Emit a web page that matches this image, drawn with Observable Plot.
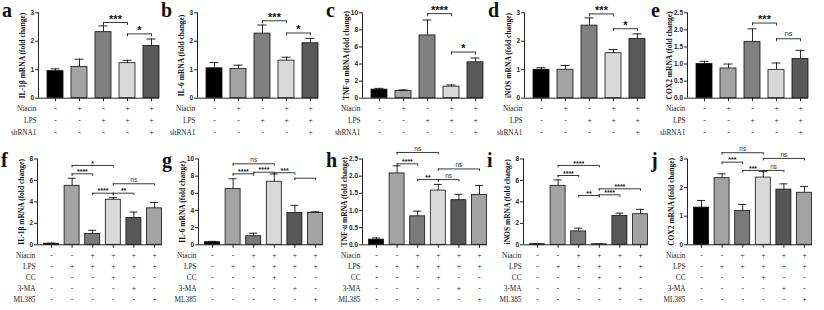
<!DOCTYPE html>
<html><head><meta charset="utf-8">
<script src="https://cdn.jsdelivr.net/npm/d3@7"></script>
<script src="https://cdn.jsdelivr.net/npm/@observablehq/plot@0.6"></script>
<style>
html,body{margin:0;padding:0;background:#fff;}
#fig{position:relative;width:824px;height:310px;overflow:hidden;background:#fff;}
.pos{position:absolute;}
.pos svg{overflow:visible;display:block;}
.letter{position:absolute;font-family:"Liberation Serif",serif;font-weight:bold;font-size:20px;line-height:1;color:#111;}
</style></head><body><div id="fig"></div>
<script>
// ---------- data ----------
const panelLetters = ["a","b","c","d","e","f","g","h","i","j"];
const genes = ["IL-1β","IL-6","TNF-α","iNOS","COX2","IL-1β","IL-6","TNF-α","iNOS","COX2"];

const topRows = ["Niacin","LPS","shRNA1"];
const topSigns = [
  ["-","+","-","+","+"],
  ["-","-","+","+","+"],
  ["-","-","-","-","+"]
];
const bottomRows = ["Niacin","LPS","CC","3-MA","ML385"];
const bottomSigns = [
  ["-","-","+","+","+","+"],
  ["-","+","+","+","+","+"],
  ["-","-","-","+","-","-"],
  ["-","-","-","-","+","-"],
  ["-","-","-","-","-","+"]
];

const meanA = [0.95, 1.10, 2.32, 1.23, 1.83];  const errA = [0.08, 0.27, 0.22, 0.10, 0.25];
const meanB = [1.05, 1.03, 2.27, 1.32, 1.93];  const errB = [0.20, 0.13, 0.30, 0.12, 0.17];
const meanC = [1.00, 0.85, 7.35, 1.35, 4.20];  const errC = [0.15, 0.12, 1.80, 0.20, 0.50];
const meanD = [1.00, 1.00, 2.55, 1.58, 2.08];  const errD = [0.07, 0.15, 0.27, 0.13, 0.18];
const meanE = [1.00, 0.87, 1.65, 0.83, 1.15];  const errE = [0.08, 0.13, 0.38, 0.20, 0.25];
const meanF = [0.10, 5.50, 1.00, 4.20, 2.50, 3.40];  const errF = [0.05, 0.70, 0.35, 0.20, 0.55, 0.55];
const meanG = [0.30, 6.50, 1.00, 7.35, 3.70, 3.70];  const errG = [0.10, 1.20, 0.35, 0.90, 0.90, 0.15];
const meanH = [0.15, 2.08, 0.83, 1.58, 1.30, 1.45];  const errH = [0.05, 0.22, 0.15, 0.18, 0.17, 0.28];
const meanI = [0.05, 5.50, 1.25, 0.05, 2.70, 2.85];  const errI = [0.03, 0.55, 0.30, 0.02, 0.25, 0.45];
const meanJ = [1.30, 2.33, 1.18, 2.35, 1.93, 1.82];  const errJ = [0.25, 0.15, 0.23, 0.22, 0.20, 0.22];

// significance brackets: [from bar, to bar, height, label]
const sigA = [[3,4,2.66,"***"],[4,5,2.26,"*"]];
const sigB = [[3,4,2.72,"***"],[4,5,2.29,"*"]];
const sigC = [[3,4,9.90,"****"],[4,5,5.40,"*"]];
const sigD = [[3,4,2.96,"***"],[4,5,2.44,"*"]];
const sigE = [[3,4,2.20,"***"],[4,5,1.74,"ns"]];
const sigF = [[2,4,7.40,"*"],[2,3,6.62,"****"],[4,6,5.69,"ns"],[3,4,4.81,"****"],[4,5,4.81,"**"]];
const sigG = [[2,4,9.44,"ns"],[2,3,8.27,"****"],[3,4,8.46,"****"],[4,5,8.40,"***"],[5,6,7.76,""]];
const sigH = [[2,4,2.69,"ns"],[2,3,2.36,"****"],[4,6,2.21,"ns"],[3,4,1.90,"**"],[4,5,1.90,"ns"]];
const sigI = [[2,4,7.40,"****"],[2,3,6.46,"****"],[4,6,5.22,"****"],[3,4,4.60,"**"],[4,5,4.66,"****"]];
const sigJ = [[2,4,3.22,"ns"],[4,6,3.02,"ns"],[2,3,2.89,"***"],[3,4,2.60,"***"],[4,5,2.60,"ns"]];

const yMaxes = [3, 3, 10, 3, 2.5, 8, 10, 2.5, 8, 3];
const yTickSteps = [1, 1, 2, 1, 0.5, 2, 2, 0.5, 2, 1];

// ---------- styles / layout ----------
const topColors = ["#000000","#a3a3a3","#808080","#d9d9d9","#595959"];
const bottomColors = ["#000000","#a3a3a3","#7a7a7a","#d9d9d9","#575757","#a3a3a3"];
const axisXs = [38,197,362,524,687, 37,198,362,523,687];

const allMeans = [meanA,meanB,meanC,meanD,meanE,meanF,meanG,meanH,meanI,meanJ];
const allErrs = [errA,errB,errC,errD,errE,errF,errG,errH,errI,errJ];
const allSigs = [sigA,sigB,sigC,sigD,sigE,sigF,sigG,sigH,sigI,sigJ];

const fig = document.getElementById("fig");
const SVGNS = "http://www.w3.org/2000/svg";

function place(node, left, top) {
  const d = document.createElement("div");
  d.className = "pos";
  d.style.left = left + "px";
  d.style.top = top + "px";
  d.appendChild(node);
  fig.appendChild(d);
}

function drawPanel(k) {
  const isTop = k < 5;
  const geo = isTop
    ? {px:24, first:17, frameW:121, top:12.3, bottom:97.7, svgTop:0, hw:8, cap:4.5, leg:3, tableTop:102, rowStep:12,
       starSize:11, starDy:-3.5, nsSize:7.5, nsDy:-5}
    : {px:20.6, first:14, frameW:125, top:158.5, bottom:244.3, svgTop:138, hw:7.5, cap:4, leg:2.5, tableTop:249.25, rowStep:11.5,
       starSize:7, starDy:-2, nsSize:6.5, nsDy:-4};
  const means = allMeans[k], errs = allErrs[k];
  const colors = isTop ? topColors : bottomColors;
  const rows = isTop ? topRows : bottomRows;
  const signs = isTop ? topSigns : bottomSigns;
  const ymax = yMaxes[k], step = yTickSteps[k];
  const perUnit = (geo.bottom - geo.top) / ymax;
  const x0 = 1 - geo.first / geo.px;
  const x1 = x0 + geo.frameW / geo.px;
  const mL = 40, mR = 4;
  const W = mL + geo.frameW + mR;
  const mT = geo.top - geo.svgTop;
  const mB = 6;
  const H = mT + (geo.bottom - geo.top) + mB;
  const hw = geo.hw / geo.px, cw = geo.cap / geo.px, leg = geo.leg / perUnit;

  const data = means.map((m, i) => ({i: i + 1, m, e: errs[i], c: colors[i]}));
  const sigs = allSigs[k].map(([a, b, y, label]) => ({a, b, y, label}));
  const legs = sigs.flatMap(s => [{x: s.a, y: s.y}, {x: s.b, y: s.y}]);
  const ticks = d3.range(0, ymax + step / 2, step);
  const fmt = step < 1 ? d3.format(".1f") : d3.format("d");
  const labelDx = step < 1 ? -17.5 : -16;

  const chart = Plot.plot({
    width: W, height: H,
    marginLeft: mL, marginRight: mR, marginTop: mT, marginBottom: mB,
    style: {fontFamily: "Liberation Sans, Arial, sans-serif", background: "transparent", color: "#222", overflow: "visible"},
    x: {type: "linear", domain: [x0, x1], axis: null},
    y: {domain: [0, ymax], axis: null},
    color: {type: "identity"},
    marks: [
      Plot.rect(data, {x1: d => d.i - hw, x2: d => d.i + hw, y1: 0, y2: "m", fill: "c", stroke: "#111", strokeWidth: 0.8}),
      Plot.ruleX(data, {x: "i", y1: "m", y2: d => d.m + d.e, stroke: "#111", strokeWidth: 0.9}),
      Plot.ruleY(data, {y: d => d.m + d.e, x1: d => d.i - cw, x2: d => d.i + cw, stroke: "#111", strokeWidth: 0.9}),
      Plot.ruleY([0], {stroke: "#222", strokeWidth: 1}),
      Plot.ruleX([x0], {y1: 0, y2: ymax, stroke: "#222", strokeWidth: 1}),
      Plot.axisY(ticks, {tickSize: 3, tickPadding: 1.5, tickFormat: fmt, fontSize: 6.5, fontWeight: "bold", label: null, stroke: "#222"}),
      Plot.axisX(d3.range(1, means.length + 1), {tickSize: 3.5, tickFormat: () => "", label: null, stroke: "#222"}),
      Plot.ruleY(sigs, {y: "y", x1: "a", x2: "b", stroke: "#222", strokeWidth: 0.9}),
      Plot.ruleX(legs, {x: "x", y1: "y", y2: d => d.y - leg, stroke: "#222", strokeWidth: 0.9}),
      Plot.text(sigs.filter(s => s.label !== "ns"), {x: s => (s.a + s.b) / 2, y: "y", text: "label", fontSize: geo.starSize, fontWeight: "bold", dy: geo.starDy, fill: "#111"}),
      Plot.text(sigs.filter(s => s.label === "ns"), {x: s => (s.a + s.b) / 2, y: "y", text: "label", fontSize: geo.nsSize, dy: geo.nsDy, fill: "#333"}),
      Plot.text([genes[k]], {frameAnchor: "left", textAnchor: "middle", lineAnchor: "middle", rotate: -90, dx: labelDx, text: d => d + " mRNA (fold change)",
        fontFamily: "Liberation Serif, serif", fontWeight: "bold", fontSize: 7.5, fill: "#111", ariaLabel: "ylabel"})
    ]
  });
  // italicise the gene name in the y label
  const t = chart.querySelector('g[aria-label="ylabel"] text');
  if (t) {
    t.textContent = "";
    const s1 = document.createElementNS(SVGNS, "tspan");
    s1.setAttribute("font-style", "italic");
    s1.textContent = genes[k];
    const s2 = document.createElementNS(SVGNS, "tspan");
    s2.textContent = " mRNA (fold change)";
    t.appendChild(s1); t.appendChild(s2);
  }
  place(chart, axisXs[k] - mL, geo.svgTop);

  const cells = [];
  rows.forEach((r, ri) => signs[ri].forEach((s, i) => cells.push({row: r, i: i + 1, s})));
  const tableH = rows.length * geo.rowStep + 3;
  const table = Plot.plot({
    width: W, height: tableH,
    marginLeft: mL, marginRight: mR, marginTop: 0, marginBottom: 0,
    style: {fontFamily: "Liberation Serif, serif", background: "transparent", color: "#222", overflow: "visible"},
    x: {type: "linear", domain: [x0, x1], axis: null},
    y: {type: "band", domain: rows, range: [0, rows.length * geo.rowStep], padding: 0, axis: null},
    marks: [
      Plot.text(rows, {y: d => d, text: d => d, frameAnchor: "left", textAnchor: "end", dx: -2, fontSize: 7.3, fill: "#222"}),
      Plot.text(cells, {x: "i", y: "row", text: "s", fontSize: 7.5, fill: "#222"})
    ]
  });
  place(table, axisXs[k] - mL, geo.tableTop);

  const L = document.createElement("div");
  L.className = "letter";
  L.textContent = panelLetters[k];
  L.style.left = (axisXs[k] - 36) + "px";
  L.style.top = (isTop ? 0 : 150) + "px";
  fig.appendChild(L);
}

for (let k = 0; k < 10; k++) drawPanel(k);
</script>
</body></html>
